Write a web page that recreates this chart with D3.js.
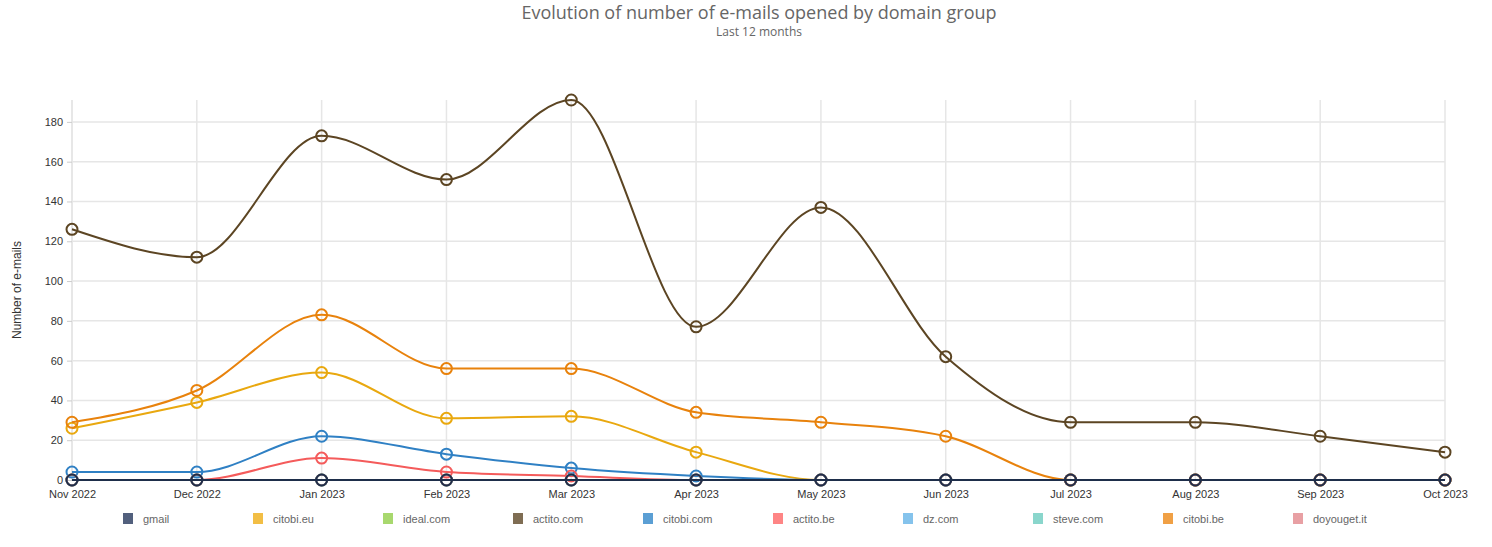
<!DOCTYPE html>
<html>
<head>
<meta charset="utf-8">
<script src="https://cdn.jsdelivr.net/npm/d3@7"></script>
<style>
  html, body { margin: 0; padding: 0; background: #fff; }
  svg { display: block; }
</style>
</head>
<body>
<svg id="chart" width="1492" height="547"></svg>
<script>
const months = ["Nov 2022","Dec 2022","Jan 2023","Feb 2023","Mar 2023","Apr 2023","May 2023","Jun 2023","Jul 2023","Aug 2023","Sep 2023","Oct 2023"];
const yTicks = [0,20,40,60,80,100,120,140,160,180];
const seriesNames = ["gmail","citobi.eu","ideal.com","actito.com","citobi.com","actito.be","dz.com","steve.com","citobi.be","doyouget.it"];

const gmail      = [0,0,0,0,0,0,0,0,0,0,0,0];
const citobiEu   = [26,39,54,31,32,14,0,0,0,0,0,0];
const idealCom   = [0,0,0,0,0,0,0,0,0,0,0,0];
const actitoCom  = [126,112,173,151,191,77,137,62,29,29,22,14];
const citobiCom  = [4,4,22,13,6,2,0,0,0,0,0,0];
const actitoBe   = [0,0,11,4,2,0,0,0,0,0,0,0];
const dzCom      = [0,0,0,0,0,0,0,0,0,0,0,0];
const steveCom   = [0,0,0,0,0,0,0,0,0,0,0,0];
const citobiBe   = [29,45,83,56,56,34,29,22,0,0,0,0];
const doyougetIt = [0,0,0,0,0,0,0,0,0,0,0,0];

const seriesValues = [gmail,citobiEu,idealCom,actitoCom,citobiCom,actitoBe,dzCom,steveCom,citobiBe,doyougetIt];
const lineColors   = ["#1e2e4a","#e9a80f","#8cc63f","#5c4523","#2f80c4","#f45b5b","#58a8e0","#5cc9b9","#e8820c","#e07a80"];
const legendColors = ["#52607d","#f2be45","#a8d86e","#7f6d53","#5b9fd4","#fe8585","#85c3ec","#8ad6cc","#f0a045","#e8a0a4"];

const svg = d3.select("#chart");
const x = d3.scalePoint().domain(months).range([72, 1445]);
const y = d3.scaleLinear().domain([0, 191]).range([480, 100]);

// title
svg.append("text").attr("x", 759).attr("y", 19).attr("text-anchor", "middle")
  .style("font-family", "'Open Sans', sans-serif").style("font-size", "18px").style("fill", "#666")
  .text("Evolution of number of e-mails opened by domain group");
svg.append("text").attr("x", 759).attr("y", 36).attr("text-anchor", "middle")
  .style("font-family", "'Open Sans', sans-serif").style("font-size", "12px").style("fill", "#666")
  .text("Last 12 months");

// grid
const grid = svg.append("g");
grid.selectAll("line.h").data(yTicks.filter(d => d > 0)).join("line")
  .attr("x1", 72).attr("x2", 1445).attr("y1", d => y(d)).attr("y2", d => y(d))
  .attr("stroke", "#e6e6e6").attr("stroke-width", 1.5);
grid.selectAll("line.v").data(months).join("line")
  .attr("x1", d => x(d)).attr("x2", d => x(d)).attr("y1", 100).attr("y2", 480)
  .attr("stroke", "#e6e6e6").attr("stroke-width", 1.5);

// y axis
const yAxis = svg.append("g").attr("transform", "translate(72,0)")
  .call(d3.axisLeft(y).tickValues(yTicks).tickSize(5).tickPadding(4));
yAxis.select(".domain").attr("stroke", "#e6e6e6").attr("stroke-width", 1.5).attr("d", "M0,100V480");
yAxis.selectAll(".tick line").attr("stroke", "#ccc");
yAxis.selectAll("text").style("font-family", "'Liberation Sans', Arial, sans-serif").style("font-size", "11px").style("fill", "#333");

// x axis
const xAxis = svg.append("g").attr("transform", "translate(0,480)")
  .call(d3.axisBottom(x).tickSize(0).tickPadding(10));
xAxis.select(".domain").remove();
xAxis.selectAll("text").style("font-family", "'Liberation Sans', Arial, sans-serif").style("font-size", "11px").style("fill", "#333");

// y label
svg.append("text").attr("transform", "translate(21,290) rotate(-90)").attr("text-anchor", "middle")
  .style("font-family", "'Liberation Sans', Arial, sans-serif").style("font-size", "12px").style("fill", "#333")
  .text("Number of e-mails");

// series
const line = d3.line().x((d, i) => x(months[i])).y(d => y(d)).curve(d3.curveMonotoneX);
const order = [1,2,3,4,5,6,7,8,9,0];
const sg = svg.append("g");
order.forEach(si => {
  const vals = seriesValues[si];
  const g = sg.append("g");
  g.append("path").attr("d", line(vals)).attr("fill", "none")
    .attr("stroke", lineColors[si]).attr("stroke-width", 2);
  g.selectAll("circle").data(vals).join("circle")
    .attr("cx", (d, i) => x(months[i])).attr("cy", d => y(d)).attr("r", 5.5)
    .attr("fill", "none").attr("stroke", lineColors[si]).attr("stroke-width", 2);
});

// legend
const legend = svg.append("g");
seriesNames.forEach((name, i) => {
  const lx = 123 + 130 * i;
  legend.append("rect").attr("x", lx).attr("y", 513).attr("width", 10).attr("height", 11)
    .attr("fill", legendColors[i]);
  legend.append("text").attr("x", lx + 20).attr("y", 523)
    .style("font-family", "'Liberation Sans', Arial, sans-serif").style("font-size", "11px").style("fill", "#666")
    .text(name);
});
</script>
</body>
</html>
